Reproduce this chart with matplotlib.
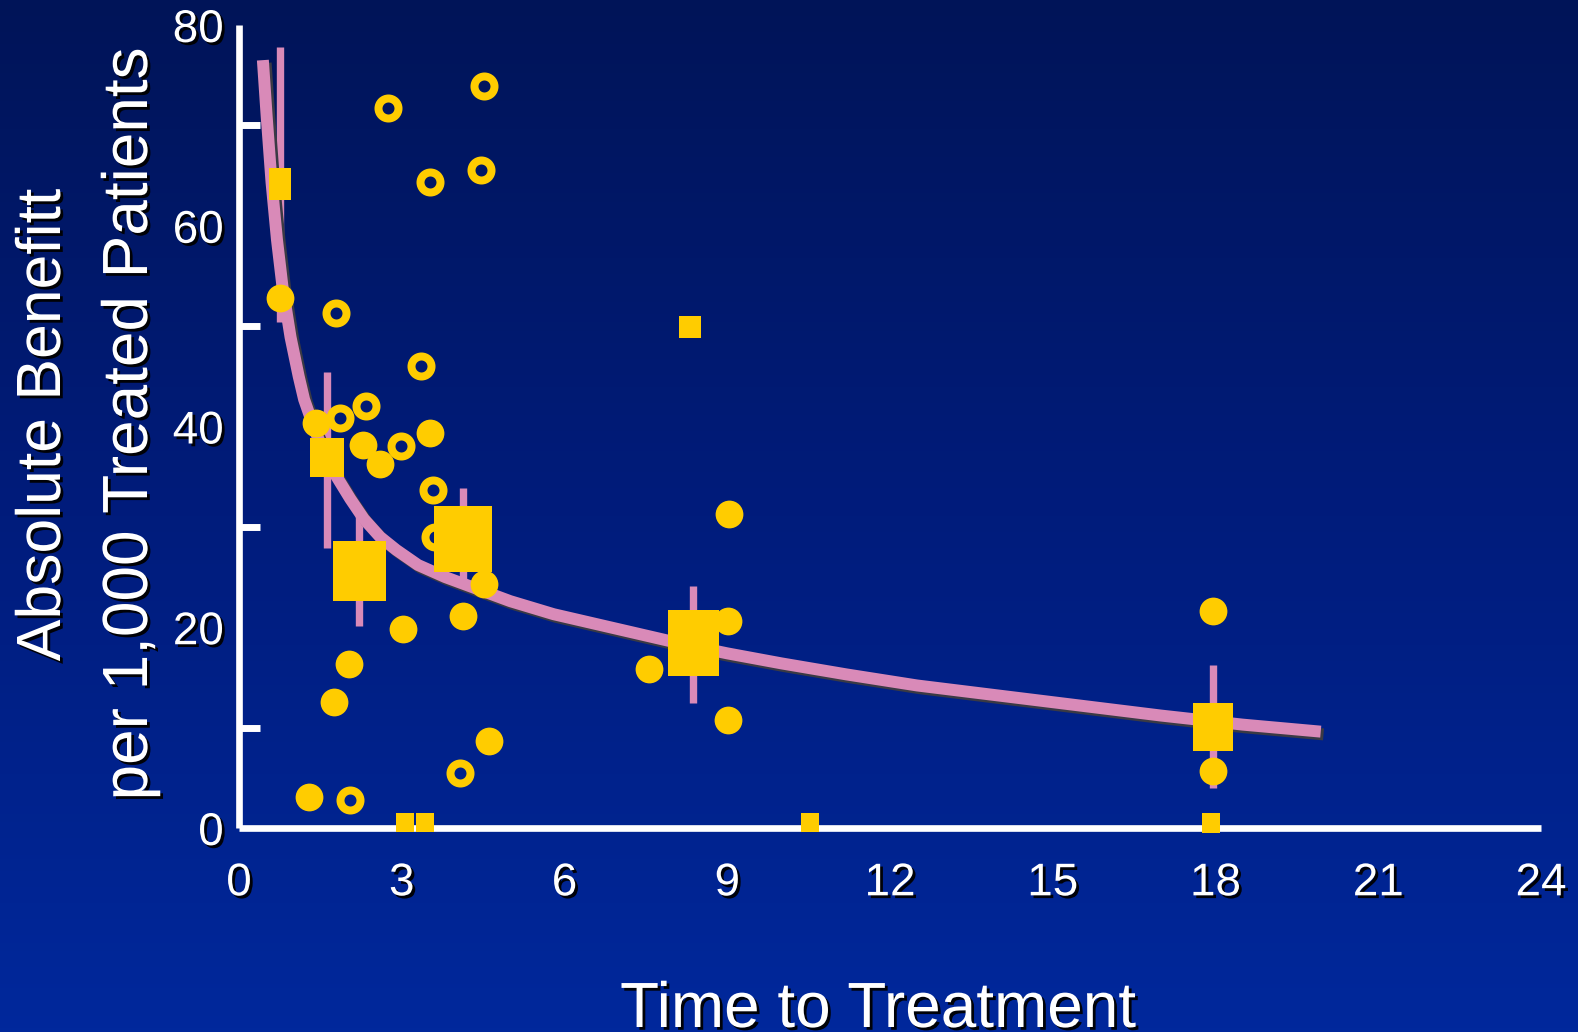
import numpy as np
import matplotlib
matplotlib.use("Agg")
import matplotlib.pyplot as plt
from matplotlib import patheffects as pe
from matplotlib.colors import LinearSegmentedColormap

# ---------------- data ----------------
# individual trials, filled circles
circle_x = [0.75, 1.42, 2.29, 2.60, 3.52, 4.52, 4.13, 3.03, 9.03, 9.02, 7.55, 9.02, 2.03, 1.75, 4.61, 1.29, 17.95, 17.95]
circle_y = [52.8, 40.3, 38.2, 36.3, 39.4, 24.3, 21.1, 19.8, 31.3, 20.6, 15.8, 10.8, 16.3, 12.6, 8.7, 3.1, 21.6, 5.7]

# individual trials, open rings
ring_x = [2.75, 4.52, 3.52, 4.46, 1.79, 3.36, 1.86, 2.34, 2.99, 3.58, 3.62, 4.08, 2.05]
ring_y = [71.7, 73.9, 64.4, 65.6, 51.3, 46.0, 40.8, 42.0, 38.1, 33.7, 29.0, 5.5, 2.8]

# pooled groups (squares with error bars)
group_x = [0.75, 1.63, 2.21, 4.12, 8.37, 17.95]
group_y = [64.2, 37.0, 25.6, 28.8, 18.4, 10.1]
group_lo = [50.4, 27.9, 20.1, 23.8, 12.5, 4.0]
group_hi = [77.8, 45.4, 31.3, 33.9, 24.1, 16.2]

# small squares without error bars
small_x = [8.31, 3.06, 3.43, 10.52, 17.92]
small_y = [49.9, 0.55, 0.55, 0.6, 0.5]

# fitted curve, points
curve_x = [0.44, 0.51, 0.60, 0.70, 0.80, 0.95, 1.10, 1.20, 1.40, 1.60, 1.80, 2.05, 2.30, 2.60, 2.90,
           3.30, 3.80, 4.40, 5.00, 5.80, 6.60, 7.40, 8.20, 9.00, 10.0, 11.2, 12.5, 14.0, 15.5, 17.0,
           18.5, 19.94]
curve_y = [76.5, 70.9, 64.3, 58.6, 54.0, 48.9, 45.0, 42.7, 39.6, 37.0, 35.0, 32.8, 30.8, 29.0, 27.7,
           26.2, 25.0, 23.8, 22.6, 21.3, 20.3, 19.3, 18.3, 17.4, 16.4, 15.3, 14.2, 13.2, 12.2, 11.2,
           10.3, 9.6]

x_ticks = [0, 3, 6, 9, 12, 15, 18, 21, 24]
y_ticks = [0, 20, 40, 60, 80]
x_label = "Time to Treatment"
y_label_1 = "Absolute Benefitt"
y_label_2 = "per 1,000 Treated Patients"

# ---------------- style ----------------
YELLOW = "#FFCC00"
PINK = "#D98AB8"
WHITE = "#FFFFFF"
FONT = ["Liberation Sans", "DejaVu Sans"]
group_box = [(22, 32), (34, 39), (53, 60), (58, 66), (51, 66), (40, 48)]   # w,h in px
small_box = [(23, 23), (18, 19), (18, 19), (18, 19), (18, 20)]
PX2PT = 0.72

plt.rcParams['font.family'] = FONT

W, H = 1578, 1032
fig = plt.figure(figsize=(W / 100, H / 100), dpi=100)

# background gradient
bg = fig.add_axes([0, 0, 1, 1], zorder=-10)
cmap = LinearSegmentedColormap.from_list('bg', ['#001458', '#001C7C', '#00289C'])
bg.imshow(np.linspace(0, 1, 256).reshape(-1, 1), aspect='auto', cmap=cmap,
          extent=[0, 1, 0, 1], origin='upper')
bg.axis('off')

left, right, top, bottom = 239, 1541, 25, 828
ax = fig.add_axes([left / W, 1 - bottom / H, (right - left) / W, (bottom - top) / H])
ax.set_facecolor('none')
ax.set_xlim(0, 24)
ax.set_ylim(0, 80)

for s in ['top', 'right']:
    ax.spines[s].set_visible(False)
for s in ['left', 'bottom']:
    ax.spines[s].set_color(WHITE)
    ax.spines[s].set_linewidth(4.8)
    ax.spines[s].set_capstyle('butt')

ax.set_xticks(x_ticks)
ax.set_yticks(y_ticks)
ax.set_xticks([t for t in range(3, 22, 3)], minor=True)
ax.set_yticks([t for t in range(10, 71, 10)], minor=True)
ax.tick_params(which='major', length=0, labelsize=33, labelcolor=WHITE)
ax.tick_params(axis='x', which='major', pad=24)
ax.tick_params(axis='y', which='major', pad=11)
ax.tick_params(axis='x', which='minor', direction='in', length=18.5, width=5, color=WHITE)
ax.tick_params(axis='y', which='minor', direction='in', length=15, width=5, color=WHITE)

shadow = [pe.SimplePatchShadow(offset=(2, -2), shadow_rgbFace='black', alpha=0.95), pe.Normal()]
for lbl in ax.get_xticklabels() + ax.get_yticklabels():
    lbl.set_path_effects(shadow)
    lbl.set_family(FONT)

# error bars
ax.vlines(group_x, group_lo, group_hi, colors=PINK, linewidth=5.3, capstyle='butt', zorder=2)

# fitted curve with shadow
ax.plot(curve_x, curve_y, color=PINK, lw=8.6, solid_capstyle='butt', solid_joinstyle='round',
        path_effects=[pe.SimpleLineShadow(offset=(2, -2), shadow_color='#3a3a44', alpha=1.0), pe.Normal()],
        zorder=3)

# rings
ax.plot(ring_x, ring_y, 'o', ms=14.4, mfc='none', mec=YELLOW, mew=5.76, ls='none', zorder=3.5, clip_on=False)


def rect_marker(w, h):
    a = w / h
    return [(-a, -1), (a, -1), (a, 1), (-a, 1), (-a, -1)]


for (x, y), (w, h) in zip(zip(group_x, group_y), group_box):
    ax.plot([x], [y], marker=rect_marker(w, h), ms=h * PX2PT, mfc=YELLOW, mec='none',
            mew=0, ls='none', zorder=4, clip_on=False)
for (x, y), (w, h) in zip(zip(small_x, small_y), small_box):
    ax.plot([x], [y], marker=rect_marker(w, h), ms=h * PX2PT, mfc=YELLOW, mec='none',
            mew=0, ls='none', zorder=6, clip_on=False)

# filled circles
ax.plot(circle_x, circle_y, 'o', ms=20, mfc=YELLOW, mec='none', mew=0, ls='none', zorder=5, clip_on=False)

# axis titles
fig.text(60 / W, 1 - 425 / H, y_label_1, rotation=90, rotation_mode='anchor', ha='center',
         va='baseline', fontsize=45, color=WHITE, path_effects=shadow)
fig.text(147 / W, 1 - 424 / H, y_label_2, rotation=90, rotation_mode='anchor', ha='center',
         va='baseline', fontsize=46, color=WHITE, path_effects=shadow)
fig.text(878 / W, 1 - 1027 / H, x_label, ha='center', va='baseline', fontsize=46,
         color=WHITE, path_effects=shadow)

fig.savefig('out.png', dpi=100)
